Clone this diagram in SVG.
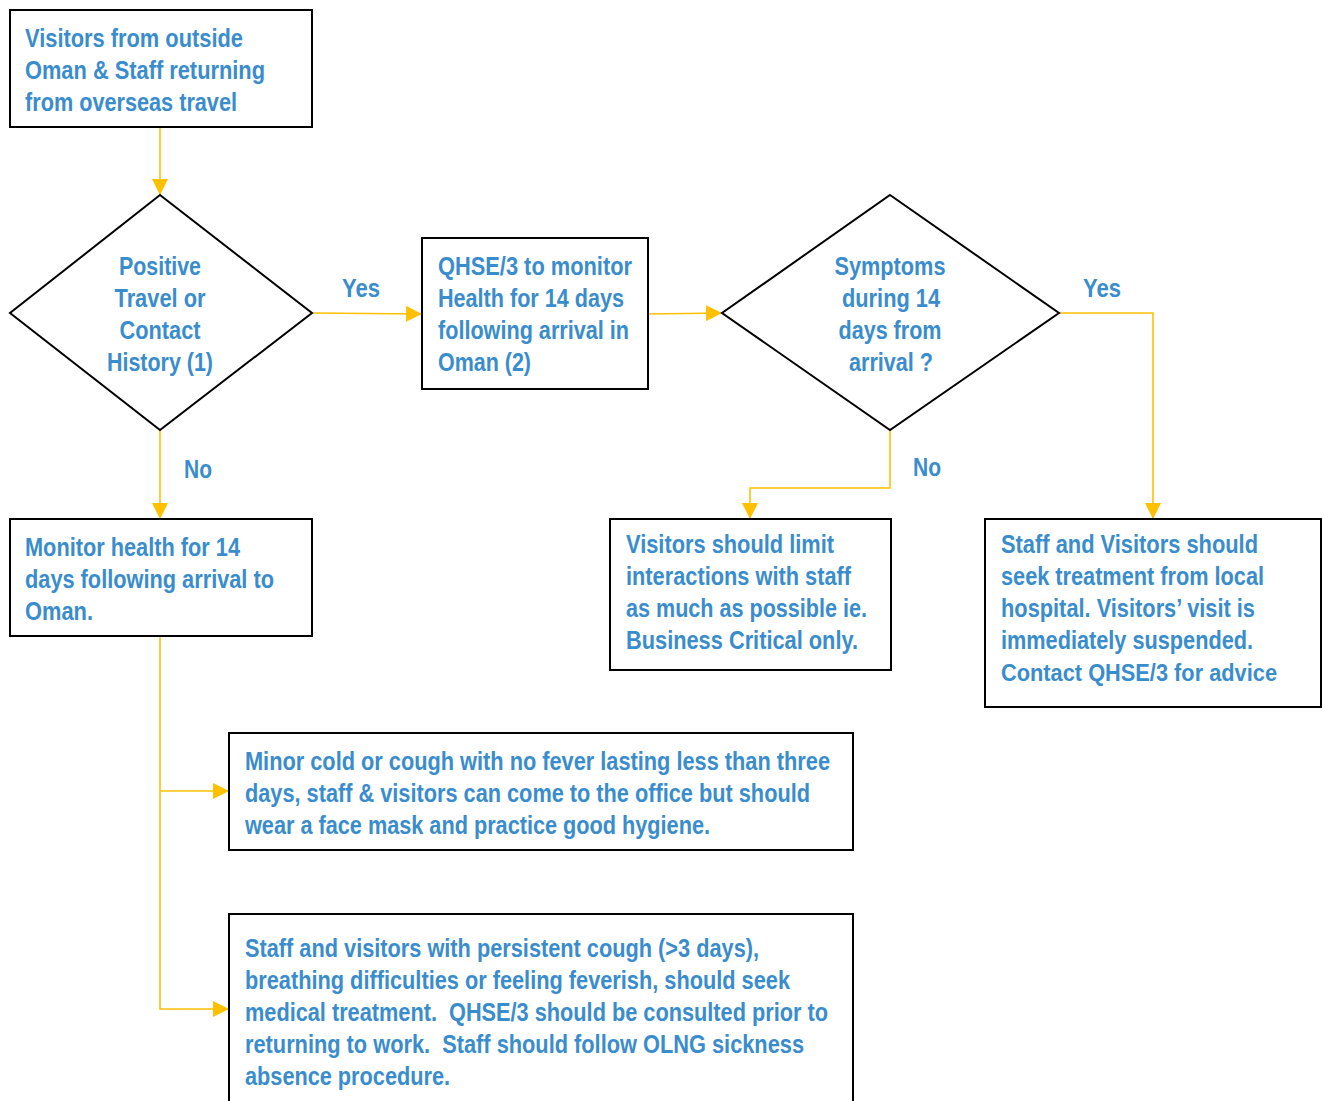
<svg xmlns="http://www.w3.org/2000/svg" width="1323" height="1101" viewBox="0 0 1323 1101">
<style>
.box{fill:#ffffff;stroke:#000000;stroke-width:2}
.t{font-family:"Liberation Sans Narrow","Arial Narrow","Liberation Sans",Arial,sans-serif;font-weight:bold;font-size:26px;fill:#3a8dcd}
.c{text-anchor:middle}
.ln{fill:none;stroke:#ffc000;stroke-width:1.6}
</style>
<defs>
<marker id="ah" markerUnits="userSpaceOnUse" markerWidth="16" markerHeight="16" viewBox="0 0 16 16" refX="16" refY="8" orient="auto">
<path d="M0,0 L16,8 L0,16 Z" fill="#ffc000"/>
</marker>
</defs>
<g id="connectors">
<path class="ln" d="M160,127 V195" marker-end="url(#ah)"/>
<path class="ln" d="M160,430 V519" marker-end="url(#ah)"/>
<path class="ln" d="M312,313 L422,314" marker-end="url(#ah)"/>
<path class="ln" d="M648,314 L722,313" marker-end="url(#ah)"/>
<path class="ln" d="M1059,313 H1153 V519" marker-end="url(#ah)"/>
<path class="ln" d="M890,430 V488 H750 V519" marker-end="url(#ah)"/>
<path class="ln" d="M160,636 V1009 H229" marker-end="url(#ah)"/>
<path class="ln" d="M160,791 H229" marker-end="url(#ah)"/>
<text class="t" x="342" y="297" textLength="38" lengthAdjust="spacingAndGlyphs">Yes</text>
<text class="t" x="184" y="478" textLength="28" lengthAdjust="spacingAndGlyphs">No</text>
<text class="t" x="1083" y="297" textLength="38" lengthAdjust="spacingAndGlyphs">Yes</text>
<text class="t" x="913" y="476" textLength="28" lengthAdjust="spacingAndGlyphs">No</text>
</g>
<g id="n1">
<rect class="box" x="10" y="10" width="302" height="117"/>
<text class="t" x="25" y="47" textLength="218" lengthAdjust="spacingAndGlyphs">Visitors from outside</text>
<text class="t" x="25" y="79" textLength="240" lengthAdjust="spacingAndGlyphs">Oman &amp; Staff returning</text>
<text class="t" x="25" y="111" textLength="212" lengthAdjust="spacingAndGlyphs">from overseas travel</text>
</g>
<g id="n2">
<polygon class="box" points="160,195 312,313 160,430 10,313"/>
<text class="t c" x="160" y="275" textLength="82" lengthAdjust="spacingAndGlyphs">Positive</text>
<text class="t c" x="160" y="307" textLength="91" lengthAdjust="spacingAndGlyphs">Travel or</text>
<text class="t c" x="160" y="339" textLength="81" lengthAdjust="spacingAndGlyphs">Contact</text>
<text class="t c" x="160" y="371" textLength="106" lengthAdjust="spacingAndGlyphs">History (1)</text>
</g>
<g id="n3">
<rect class="box" x="422" y="238" width="226" height="151"/>
<text class="t" x="438" y="275" textLength="194" lengthAdjust="spacingAndGlyphs">QHSE/3 to monitor</text>
<text class="t" x="438" y="307" textLength="186" lengthAdjust="spacingAndGlyphs">Health for 14 days</text>
<text class="t" x="438" y="339" textLength="191" lengthAdjust="spacingAndGlyphs">following arrival in</text>
<text class="t" x="438" y="371" textLength="93" lengthAdjust="spacingAndGlyphs">Oman (2)</text>
</g>
<g id="n4">
<polygon class="box" points="890,195 1059,313 890,430 722,313"/>
<text class="t c" x="890" y="275" textLength="111" lengthAdjust="spacingAndGlyphs">Symptoms</text>
<text class="t c" x="891" y="307" textLength="98" lengthAdjust="spacingAndGlyphs">during 14</text>
<text class="t c" x="890" y="339" textLength="103" lengthAdjust="spacingAndGlyphs">days from</text>
<text class="t c" x="891" y="371" textLength="84" lengthAdjust="spacingAndGlyphs">arrival ?</text>
</g>
<g id="n5">
<rect class="box" x="10" y="519" width="302" height="117"/>
<text class="t" x="25" y="556" textLength="215" lengthAdjust="spacingAndGlyphs">Monitor health for 14</text>
<text class="t" x="25" y="588" textLength="249" lengthAdjust="spacingAndGlyphs">days following arrival to</text>
<text class="t" x="25" y="620" textLength="68" lengthAdjust="spacingAndGlyphs">Oman.</text>
</g>
<g id="n6">
<rect class="box" x="610" y="519" width="281" height="151"/>
<text class="t" x="626" y="553" textLength="208" lengthAdjust="spacingAndGlyphs">Visitors should limit</text>
<text class="t" x="626" y="585" textLength="225" lengthAdjust="spacingAndGlyphs">interactions with staff</text>
<text class="t" x="626" y="617" textLength="241" lengthAdjust="spacingAndGlyphs">as much as possible ie.</text>
<text class="t" x="626" y="649" textLength="232" lengthAdjust="spacingAndGlyphs">Business Critical only.</text>
</g>
<g id="n7">
<rect class="box" x="985" y="519" width="336" height="188"/>
<text class="t" x="1001" y="553" textLength="257" lengthAdjust="spacingAndGlyphs">Staff and Visitors should</text>
<text class="t" x="1001" y="585" textLength="263" lengthAdjust="spacingAndGlyphs">seek treatment from local</text>
<text class="t" x="1001" y="617" textLength="254" lengthAdjust="spacingAndGlyphs">hospital. Visitors’ visit is</text>
<text class="t" x="1001" y="649" textLength="252" lengthAdjust="spacingAndGlyphs">immediately suspended.</text>
<text class="t" x="1001" y="681" style="font-size:24.5px" textLength="276" lengthAdjust="spacingAndGlyphs">Contact QHSE/3 for advice</text>
</g>
<g id="n8">
<rect class="box" x="229" y="733" width="624" height="117"/>
<text class="t" x="245" y="770" textLength="585" lengthAdjust="spacingAndGlyphs">Minor cold or cough with no fever lasting less than three</text>
<text class="t" x="245" y="802" textLength="565" lengthAdjust="spacingAndGlyphs">days, staff &amp; visitors can come to the office but should</text>
<text class="t" x="245" y="834" textLength="465" lengthAdjust="spacingAndGlyphs">wear a face mask and practice good hygiene.</text>
</g>
<g id="n9">
<rect class="box" x="229" y="914" width="624" height="200"/>
<text class="t" x="245" y="957" textLength="514" lengthAdjust="spacingAndGlyphs">Staff and visitors with persistent cough (&gt;3 days),</text>
<text class="t" x="245" y="989" textLength="545" lengthAdjust="spacingAndGlyphs">breathing difficulties or feeling feverish, should seek</text>
<text class="t" x="245" y="1021" textLength="583" lengthAdjust="spacingAndGlyphs" xml:space="preserve">medical treatment.  QHSE/3 should be consulted prior to</text>
<text class="t" x="245" y="1053" textLength="559" lengthAdjust="spacingAndGlyphs" xml:space="preserve">returning to work.  Staff should follow OLNG sickness</text>
<text class="t" x="245" y="1085" textLength="205" lengthAdjust="spacingAndGlyphs">absence procedure.</text>
</g>
</svg>
